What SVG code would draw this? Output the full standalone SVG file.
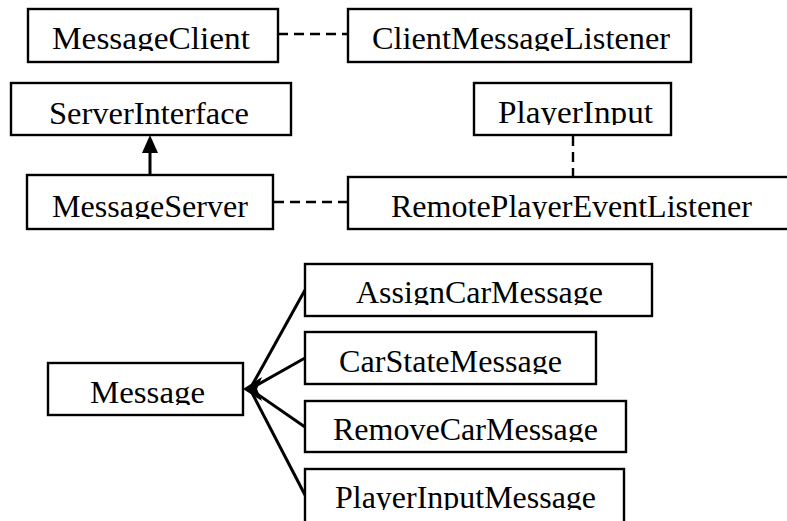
<svg xmlns="http://www.w3.org/2000/svg" width="787" height="521" viewBox="0 0 787 521">
  <style>
    .box { fill: #fff; stroke: #000; stroke-width: 2.4; }
    .lbl { font-family: "Liberation Serif", "Times New Roman", serif; font-size: 32px; fill: #000; }
    .dash { fill: none; stroke: #000; stroke-width: 2.4; stroke-dasharray: 10 6; }
    .solid { fill: none; stroke: #000; stroke-width: 3; }
  </style>
  <defs>
    <!-- printed labels lose their descenders just below the baseline -->
    <clipPath id="row1" clipPathUnits="userSpaceOnUse"><rect x="0" y="0" width="787" height="51"/></clipPath>
    <clipPath id="row2" clipPathUnits="userSpaceOnUse"><rect x="0" y="0" width="787" height="125"/></clipPath>
    <clipPath id="row3" clipPathUnits="userSpaceOnUse"><rect x="0" y="0" width="787" height="219"/></clipPath>
    <clipPath id="row4" clipPathUnits="userSpaceOnUse"><rect x="0" y="0" width="787" height="305"/></clipPath>
    <clipPath id="row5" clipPathUnits="userSpaceOnUse"><rect x="0" y="0" width="787" height="374"/></clipPath>
    <clipPath id="row6" clipPathUnits="userSpaceOnUse"><rect x="0" y="0" width="787" height="405"/></clipPath>
    <clipPath id="row7" clipPathUnits="userSpaceOnUse"><rect x="0" y="0" width="787" height="442"/></clipPath>
    <clipPath id="row8" clipPathUnits="userSpaceOnUse"><rect x="0" y="0" width="787" height="510"/></clipPath>
  </defs>
  <rect width="787" height="521" fill="#fff"/>

  <g id="connectors">
    <!-- MessageClient to ClientMessageListener -->
    <line class="dash" x1="278" y1="34" x2="348" y2="34"/>
    <!-- MessageServer to RemotePlayerEventListener -->
    <line class="dash" x1="274" y1="202" x2="348" y2="202"/>
    <!-- PlayerInput to RemotePlayerEventListener -->
    <line class="dash" x1="573" y1="136" x2="573" y2="177"/>
    <!-- MessageServer implements ServerInterface -->
    <line class="solid" x1="150" y1="175" x2="150" y2="150"/>
    <polygon points="150,135 142,153 158,153" fill="#000"/>
    <!-- Message subclasses -->
    <line class="solid" x1="250" y1="389" x2="305" y2="290"/>
    <line class="solid" x1="250" y1="389" x2="305" y2="358"/>
    <line class="solid" x1="250" y1="389" x2="305" y2="427"/>
    <line class="solid" x1="250" y1="389" x2="305" y2="495"/>
    <polygon points="243,389 262,377 257,389 262,401" fill="#000"/>
  </g>

  <g id="MessageClient">
    <rect class="box" x="28" y="9" width="250" height="53"/>
    <text class="lbl" x="52" y="49" textLength="198" lengthAdjust="spacingAndGlyphs" clip-path="url(#row1)">MessageClient</text>
  </g>
  <g id="ClientMessageListener">
    <rect class="box" x="348" y="9" width="343" height="53"/>
    <text class="lbl" x="372" y="49" textLength="298" lengthAdjust="spacingAndGlyphs" clip-path="url(#row1)">ClientMessageListener</text>
  </g>
  <g id="ServerInterface">
    <rect class="box" x="11" y="83" width="280" height="52"/>
    <text class="lbl" x="49" y="124" textLength="200" lengthAdjust="spacingAndGlyphs" clip-path="url(#row2)">ServerInterface</text>
  </g>
  <g id="PlayerInput">
    <rect class="box" x="474" y="83" width="197" height="52"/>
    <text class="lbl" x="498" y="123" textLength="155" lengthAdjust="spacingAndGlyphs" clip-path="url(#row2)">PlayerInput</text>
  </g>
  <g id="MessageServer">
    <rect class="box" x="27" y="175" width="246" height="54"/>
    <text class="lbl" x="52" y="217" textLength="196" lengthAdjust="spacingAndGlyphs" clip-path="url(#row3)">MessageServer</text>
  </g>
  <g id="RemotePlayerEventListener">
    <rect class="box" x="348" y="177" width="460" height="52"/>
    <text class="lbl" x="391" y="217" textLength="361" lengthAdjust="spacingAndGlyphs" clip-path="url(#row3)">RemotePlayerEventListener</text>
  </g>
  <g id="Message">
    <rect class="box" x="48" y="363" width="195" height="52"/>
    <text class="lbl" x="90" y="403" textLength="115" lengthAdjust="spacingAndGlyphs" clip-path="url(#row6)">Message</text>
  </g>
  <g id="AssignCarMessage">
    <rect class="box" x="305" y="264" width="347" height="52"/>
    <text class="lbl" x="356" y="303" textLength="247" lengthAdjust="spacingAndGlyphs" clip-path="url(#row4)">AssignCarMessage</text>
  </g>
  <g id="CarStateMessage">
    <rect class="box" x="305" y="332" width="291" height="52"/>
    <text class="lbl" x="339" y="372" textLength="223" lengthAdjust="spacingAndGlyphs" clip-path="url(#row5)">CarStateMessage</text>
  </g>
  <g id="RemoveCarMessage">
    <rect class="box" x="305" y="401" width="321" height="51"/>
    <text class="lbl" x="333" y="440" textLength="265" lengthAdjust="spacingAndGlyphs" clip-path="url(#row7)">RemoveCarMessage</text>
  </g>
  <g id="PlayerInputMessage">
    <rect class="box" x="305" y="469" width="319" height="60"/>
    <text class="lbl" x="335" y="508" textLength="261" lengthAdjust="spacingAndGlyphs" clip-path="url(#row8)">PlayerInputMessage</text>
  </g>
</svg>
